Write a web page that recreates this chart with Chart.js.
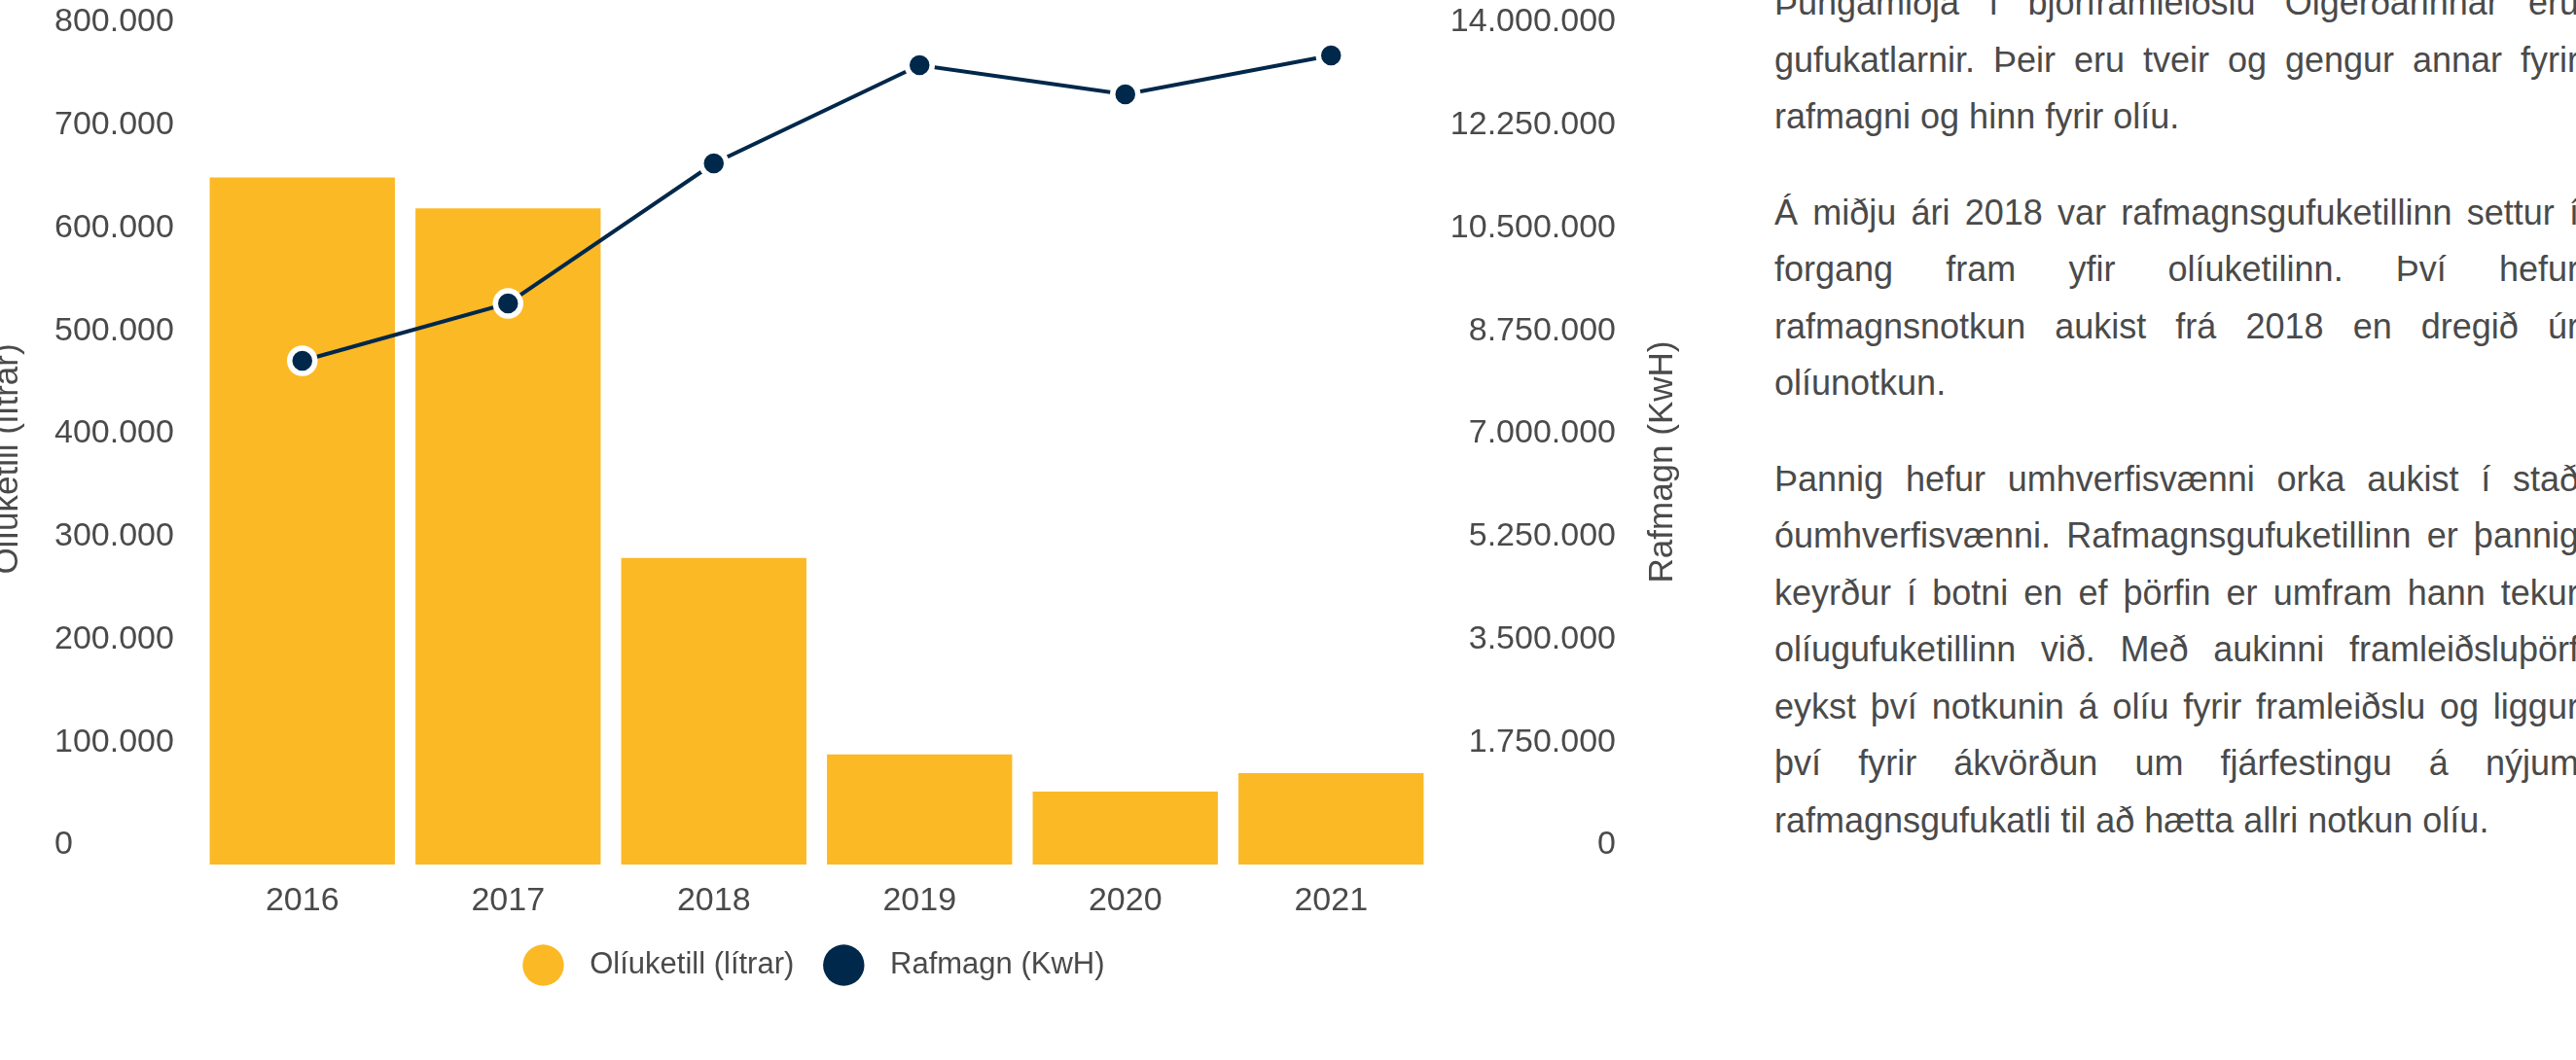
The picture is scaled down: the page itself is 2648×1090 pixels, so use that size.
<!DOCTYPE html>
<html lang="is">
<head>
<meta charset="utf-8">
<title>Olíuketill og rafmagn</title>
<script src="https://cdn.jsdelivr.net/npm/chart.js@4.4.1/dist/chart.umd.min.js"></script>
<style>
  html, body { margin: 0; padding: 0; background: #fff; overflow: hidden; }
  body { width: 2648px; height: 1090px; position: relative; font-family: "Liberation Sans", Arial, Helvetica, sans-serif; }
  #chartBox { position: absolute; left: -15px; top: 0; width: 1775px; height: 1090px; }
  #texti { position: absolute; left: 1824px; top: -26px; width: 827px; font-size: 36px; line-height: 58.5px; color: #4a4a4a; }
  #texti p { margin: 0 0 40px 0; }
  .jl { display: flex; justify-content: space-between; white-space: nowrap; }
</style>
</head>
<body>
<div id="chartBox"><canvas id="orkaChart"></canvas></div>
<div id="texti"></div>

<script>
// gögn lesin af myndinni
const ar = ["2016", "2017", "2018", "2019", "2020", "2021"];
const oliaLitrar = [668000, 638000, 298000, 107000, 71000, 89000];
const rafmagnKwh = [8572000, 9548000, 11931000, 13603000, 13106000, 13768000];

const oliaMax = 800000, oliaSkref = 100000;
const rafMax = 14000000, rafSkref = 1750000;

const gulur = "#fbb925";
const blar = "#00284a";
const grar = "#4a4a4a";

const malsgreinar = [
  ["Þungamiðja í bjórframleiðslu Ölgerðarinnar eru",
   "gufukatlarnir. Þeir eru tveir og gengur annar fyrir",
   "rafmagni og hinn fyrir olíu."],
  ["Á miðju ári 2018 var rafmagnsgufuketillinn settur í",
   "forgang fram yfir olíuketilinn. Því hefur",
   "rafmagnsnotkun aukist frá 2018 en dregið úr",
   "olíunotkun."],
  ["Þannig hefur umhverfisvænni orka aukist í stað",
   "óumhverfisvænni. Rafmagnsgufuketillinn er þannig",
   "keyrður í botni en ef þörfin er umfram hann tekur",
   "olíugufuketillinn við. Með aukinni framleiðsluþörf",
   "eykst því notkunin á olíu fyrir framleiðslu og liggur",
   "því fyrir ákvörðun um fjárfestingu á nýjum",
   "rafmagnsgufukatli til að hætta allri notkun olíu."]
];

// texti til hægri, jafnaðar línur eins og á myndinni
const texti = document.getElementById("texti");
malsgreinar.forEach((linur) => {
  const p = document.createElement("p");
  linur.forEach((lina, i) => {
    const d = document.createElement("div");
    if (i < linur.length - 1) {
      d.className = "jl";
      lina.split(" ").forEach((ord) => {
        const s = document.createElement("span");
        s.textContent = ord;
        d.appendChild(s);
      });
    } else {
      d.textContent = lina;
    }
    p.appendChild(d);
  });
  texti.appendChild(p);
});

function punktar(v) {
  return String(v).replace(/\B(?=(\d{3})+(?!\d))/g, ".");
}

const letur = '"Liberation Sans", Arial, Helvetica, sans-serif';
Chart.defaults.font.family = letur;
Chart.defaults.color = grar;

// ásaheiti snúið upp eins og á myndinni
const asaheiti = {
  id: "asaheiti",
  afterDraw(chart) {
    const ctx = chart.ctx;
    const y = chart.scales.y, y1 = chart.scales.y1;
    const midja = (chart.chartArea.top + chart.chartArea.bottom) / 2;
    ctx.save();
    ctx.font = "35px " + letur;
    ctx.fillStyle = grar;
    ctx.textAlign = "center";
    ctx.textBaseline = "middle";
    [[y.left - 48, midja + 6, "Olíuketill (lítrar)"],
     [y1.right + 48, midja + 9, "Rafmagn (KwH)"]].forEach(([x, yy, t]) => {
      ctx.save();
      ctx.translate(x, yy);
      ctx.rotate(-Math.PI / 2);
      ctx.fillText(t, 0, 0);
      ctx.restore();
    });
    ctx.restore();
  }
};

new Chart(document.getElementById("orkaChart").getContext("2d"), {
  type: "bar",
  data: {
    labels: ar,
    datasets: [
      {
        type: "bar",
        label: "Olíuketill (lítrar)",
        data: oliaLitrar,
        backgroundColor: gulur,
        borderWidth: 0,
        yAxisID: "y",
        order: 1,
        barPercentage: 0.9,
        categoryPercentage: 1.0,
      },
      {
        type: "line",
        label: "Rafmagn (KwH)",
        data: rafmagnKwh,
        borderColor: blar,
        backgroundColor: blar,
        borderWidth: 4,
        tension: 0,
        pointStyle: "circle",
        pointRadius: 13,
        pointHoverRadius: 13,
        pointBorderWidth: 5.5,
        pointBorderColor: "#ffffff",
        pointBackgroundColor: blar,
        yAxisID: "y1",
        order: 0,
      },
    ],
  },
  options: {
    responsive: true,
    maintainAspectRatio: false,
    animation: false,
    layout: { padding: { top: 43, right: 99, left: 71, bottom: 72 } },
    scales: {
      x: {
        grid: { display: false },
        border: { display: false },
        ticks: { font: { size: 34 }, color: grar, padding: 9 },
        afterFit: (s) => { s.height = 52; },
      },
      y: {
        position: "left",
        min: 0,
        max: oliaMax,
        grid: { display: false },
        border: { display: false },
        ticks: {
          stepSize: oliaSkref,
          font: { size: 34 },
          color: grar,
          crossAlign: "far",
          labelOffset: -20,
          callback: (v) => punktar(v),
        },
        afterFit: (s) => { s.width = 149; },
      },
      y1: {
        position: "right",
        min: 0,
        max: rafMax,
        grid: { display: false },
        border: { display: false },
        ticks: {
          stepSize: rafSkref,
          font: { size: 34 },
          color: grar,
          crossAlign: "far",
          labelOffset: -20,
          callback: (v) => punktar(v),
        },
        afterFit: (s) => { s.width = 187; },
      },
    },
    plugins: {
      tooltip: { enabled: false },
      legend: {
        position: "bottom",
        fullSize: false,
        labels: {
          usePointStyle: true,
          pointStyle: "circle",
          boxWidth: 30,
          boxHeight: 30,
          padding: 36,
          font: { size: 31 },
          color: grar,
          sort: (a, b) => a.datasetIndex - b.datasetIndex,
          generateLabels: function (chart) {
            const items = Chart.defaults.plugins.legend.labels.generateLabels(chart);
            items.forEach((it) => {
              it.lineWidth = 0;
              it.text = "  " + it.text;
            });
            return items;
          },
        },
      },
    },
  },
  plugins: [asaheiti],
});
</script>
</body>
</html>
